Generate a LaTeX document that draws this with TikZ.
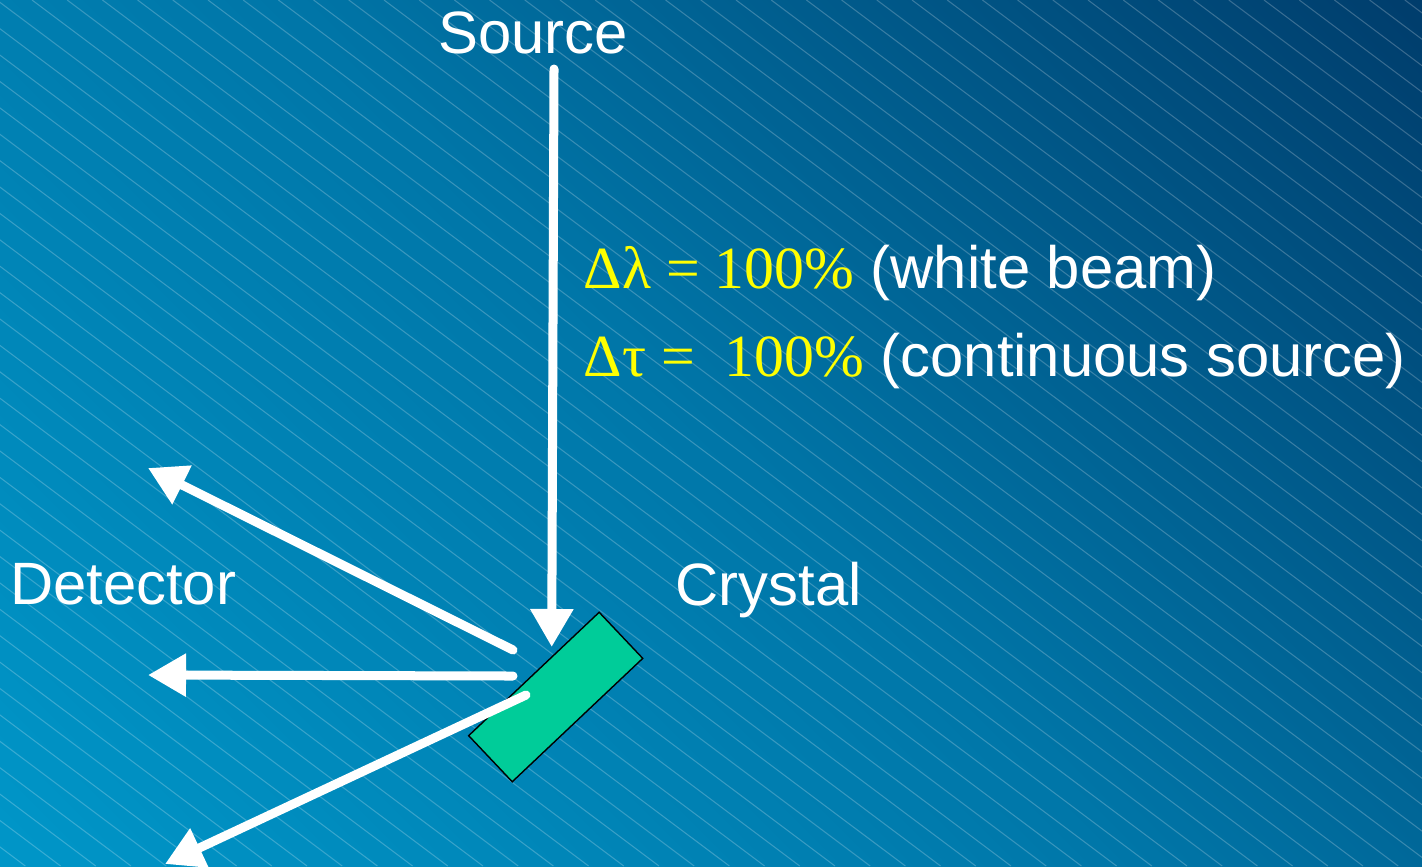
\documentclass[tikz,border=0pt]{standalone}
\usepackage{fontspec}
\setmainfont{Liberation Sans}
\newfontfamily\greekserif{Liberation Serif}
\usetikzlibrary{arrows.meta}
\definecolor{bglight}{HTML}{0096C8}
\definecolor{bgmid}{HTML}{0076A8}
\definecolor{bgdark}{HTML}{003D6C}
\definecolor{crystalgreen}{HTML}{00CC99}
\definecolor{deltayellow}{HTML}{FFFF00}
\pgfdeclareverticalshading{slidebg}{100bp}{color(0bp)=(bglight); color(14.64bp)=(bglight); color(50bp)=(bgmid); color(85.36bp)=(bgdark); color(100bp)=(bgdark)}

\begin{document}
\begin{tikzpicture}[x=0.01cm,y=-0.01cm,font=\fontsize{17}{20}\selectfont,
  label/.style={text=white,inner sep=0pt},
  ray/.style={white,line width=0.09cm,line cap=round,-{Triangle[length=0.38cm,width=0.41cm]}},
  hatch/.style={white,opacity=0.22,line width=0.3pt}]
  \useasboundingbox (0,0) rectangle (1422,866);

  % Slide background: diagonal blue gradient with thin hatch lines.
  \shade[shading=slidebg,shading angle=-45] (0,0) rectangle (1422,866);
  \begin{scope}
    \clip (0,0) rectangle (1422,866);
    \foreach \k in {-35,...,39} {
      \draw[hatch] ({32+35.2*\k},0) -- ++(1155,866);
    }
  \end{scope}

  % Incoming beam and the three outgoing rays.
  \coordinate (beamtop) at (554,69);
  \coordinate (beamhit) at (551.7,647);
  \coordinate (rayA) at (513,650);
  \coordinate (rayB) at (513,676);
  \coordinate (rayC) at (526,695);
  \coordinate (tipA) at (148,468);
  \coordinate (tipB) at (148,675);
  \coordinate (tipC) at (165,864);

  \draw[ray] (rayA) -- (tipA);
  \draw[ray] (rayB) -- (tipB);
  \node[draw=black,line width=0.4pt,fill=crystalgreen,rotate=43.4,
        minimum width=1.795cm,minimum height=0.634cm,inner sep=0pt] (crystal) at (555.7,697) {};
  \draw[ray] (rayC) -- (tipC);
  \draw[ray] (beamtop) -- (beamhit);

  % Labels.
  \node[label,anchor=base] (source) at (533,53) {Source};
  \node[label,anchor=base] (detector) at (123,604) {Detector};
  \node[label,anchor=base west] (crystalname) at (675,605) {Crystal};
  \node[label,anchor=base west] (spread) at (583,288)
    {{\greekserif\color{deltayellow}Δλ = 100\%} (white beam)};
  \node[label,anchor=base west] (pulse) at (583,376)
    {{\greekserif\color{deltayellow}Δτ =\ \ 100\%} (continuous source)};
\end{tikzpicture}
\end{document}
